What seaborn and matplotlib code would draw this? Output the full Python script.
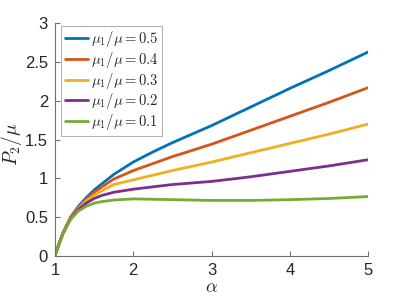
import matplotlib
matplotlib.use("Agg")
import pandas as pd
import matplotlib.pyplot as plt
import seaborn as sns

# values
alpha = [1, 1.05, 1.1, 1.2, 1.3, 1.4, 1.5, 1.6, 1.75, 2, 2.25, 2.5, 3, 3.5, 4, 4.5, 5]
ratios = ["0.5", "0.4", "0.3", "0.2", "0.1"]
p_05 = [0, 0.15, 0.29, 0.50, 0.64, 0.75, 0.85, 0.93, 1.05, 1.21, 1.34, 1.46, 1.68, 1.92, 2.16, 2.39, 2.63]
p_04 = [0, 0.15, 0.29, 0.50, 0.63, 0.73, 0.82, 0.89, 0.99, 1.10, 1.19, 1.28, 1.44, 1.62, 1.80, 1.98, 2.17]
p_03 = [0, 0.15, 0.29, 0.49, 0.61, 0.71, 0.78, 0.84, 0.92, 0.98, 1.04, 1.10, 1.21, 1.33, 1.45, 1.57, 1.70]
p_02 = [0, 0.15, 0.28, 0.48, 0.60, 0.68, 0.74, 0.78, 0.82, 0.86, 0.89, 0.92, 0.96, 1.02, 1.09, 1.16, 1.24]
p_01 = [0, 0.15, 0.28, 0.47, 0.58, 0.64, 0.68, 0.70, 0.72, 0.735, 0.73, 0.725, 0.715, 0.715, 0.725, 0.74, 0.765]
series = [p_05, p_04, p_03, p_02, p_01]

colors = ["#0072BD", "#D95319", "#EDB120", "#7E2F8E", "#77AC30"]

sns.set_style("ticks")
plt.rcParams["font.family"] = ["Liberation Sans", "DejaVu Sans"]
plt.rcParams["mathtext.fontset"] = "cm"

fig = plt.figure(figsize=(4.07, 3.05), dpi=100)
ax = fig.add_axes([0.135, 0.161, 0.77, 0.763])

for r, vals, c in zip(ratios, series, colors):
    df = pd.DataFrame({"alpha": alpha, "P": vals})
    sns.lineplot(data=df, x="alpha", y="P", ax=ax, color=c, linewidth=2,
                 label=r"$\mu_1/\mu = %s$" % r, sort=False)

ax.set_xlim(1, 5)
ax.set_ylim(0, 3)
ax.set_xticks([1, 2, 3, 4, 5])
ax.set_yticks([0, 0.5, 1, 1.5, 2, 2.5, 3])
ax.set_yticklabels(["0", "0.5", "1", "1.5", "2", "2.5", "3"])
ax.tick_params(direction="in", length=3.5, width=0.8, color="#707070",
               labelsize=12, labelcolor="#262626", pad=5)
for s in ["top", "right"]:
    ax.spines[s].set_visible(False)
for s in ["left", "bottom"]:
    ax.spines[s].set_color("#707070")
    ax.spines[s].set_linewidth(0.8)

ax.set_xlabel(r"$\alpha$", fontsize=13, labelpad=1)
ax.set_ylabel(r"$P_2/\mu$", fontsize=14)
ax.yaxis.label.set_va("center")
ax.yaxis.set_label_coords(-0.14, 0.48)

leg = ax.legend(loc="upper left", bbox_to_anchor=(0.02, 0.99), fontsize=10.5,
                frameon=True, fancybox=False, edgecolor="#a0a0a0",
                handlelength=1.6, handletextpad=0.2, borderpad=0.25,
                labelspacing=0.05, borderaxespad=0)
leg.get_frame().set_linewidth(0.8)

fig.savefig("out.png", dpi=100)
